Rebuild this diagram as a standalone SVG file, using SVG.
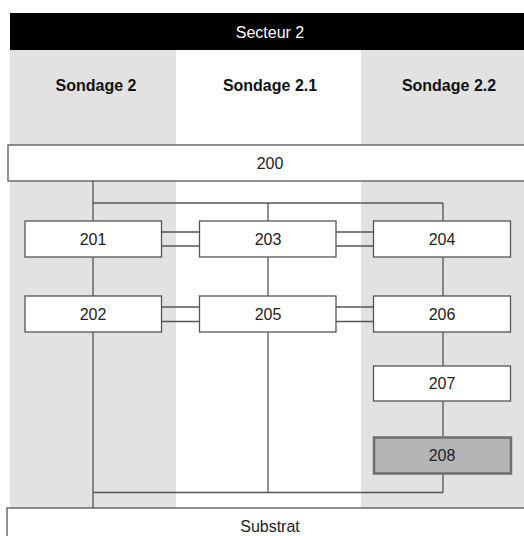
<svg xmlns="http://www.w3.org/2000/svg" width="524" height="536" viewBox="0 0 524 536">
<style>
.bg{fill:#e2e2e2}
.box{fill:#ffffff;stroke:#555555;stroke-width:1.3}
.hl{fill:#b4b4b4;stroke:#6e6e6e;stroke-width:2.5}
.t{font-family:"Liberation Sans",Arial,sans-serif;font-size:16px;fill:#222222;text-anchor:middle;dominant-baseline:central}
.h{font-family:"Liberation Sans",Arial,sans-serif;font-size:16px;font-weight:bold;fill:#111111;text-anchor:middle;dominant-baseline:central}
.w{font-family:"Liberation Sans",Arial,sans-serif;font-size:16px;fill:#ffffff;text-anchor:middle;dominant-baseline:central}
.c{fill:none;stroke:#555555;stroke-width:1.3}
</style>
<rect width="524" height="536" fill="#ffffff"/>
<g id="columns">
<rect class="bg" x="10" y="50" width="166" height="458"/>
<rect x="176" y="50" width="185" height="458" fill="#ffffff"/>
<rect class="bg" x="361" y="50" width="163" height="458"/>
</g>
<g id="header">
<rect x="10" y="13" width="514" height="37" fill="#000000"/>
<text class="w" x="270" y="32">Secteur 2</text>
</g>
<g id="col-headers">
<text class="h" x="96" y="85">Sondage 2</text>
<text class="h" x="270" y="85">Sondage 2.1</text>
<text class="h" x="449" y="85">Sondage 2.2</text>
</g>
<g id="connectors">
<path class="c" d="M93 181V221M93 203H443M268 203V221M443 203V221"/>
<path class="c" d="M161.5 232H199.5M161.5 246H199.5M336 232H373.5M336 246H373.5"/>
<path class="c" d="M93 257V296M268 257V296M443 257V296"/>
<path class="c" d="M161.5 307H199.5M161.5 321.5H199.5M336 307H373.5M336 321.5H373.5"/>
<path class="c" d="M93 332V508M268 332V492.5M443 332V366M443 401V437M443 474V492.5M93 492.5H443"/>
</g>
<g id="n200"><rect class="box" x="8" y="145" width="520" height="36"/><text class="t" x="270" y="163">200</text></g>
<g id="n201"><rect class="box" x="25" y="221" width="136.5" height="36"/><text class="t" x="93" y="239">201</text></g>
<g id="n203"><rect class="box" x="199.5" y="221" width="136.5" height="36"/><text class="t" x="268" y="239">203</text></g>
<g id="n204"><rect class="box" x="373.5" y="221" width="137" height="36"/><text class="t" x="442" y="239">204</text></g>
<g id="n202"><rect class="box" x="25" y="296" width="136.5" height="36"/><text class="t" x="93" y="314">202</text></g>
<g id="n205"><rect class="box" x="199.5" y="296" width="136.5" height="36"/><text class="t" x="268" y="314">205</text></g>
<g id="n206"><rect class="box" x="373.5" y="296" width="137" height="36"/><text class="t" x="442" y="314">206</text></g>
<g id="n207"><rect class="box" x="373.5" y="366" width="137" height="35"/><text class="t" x="442" y="383.5">207</text></g>
<g id="n208"><rect class="hl" x="374" y="437.5" width="137" height="36"/><text class="t" x="442" y="455.5">208</text></g>
<g id="substrat"><rect class="box" x="7" y="508" width="522" height="32"/><text class="t" x="270" y="526.5">Substrat</text></g>
</svg>
